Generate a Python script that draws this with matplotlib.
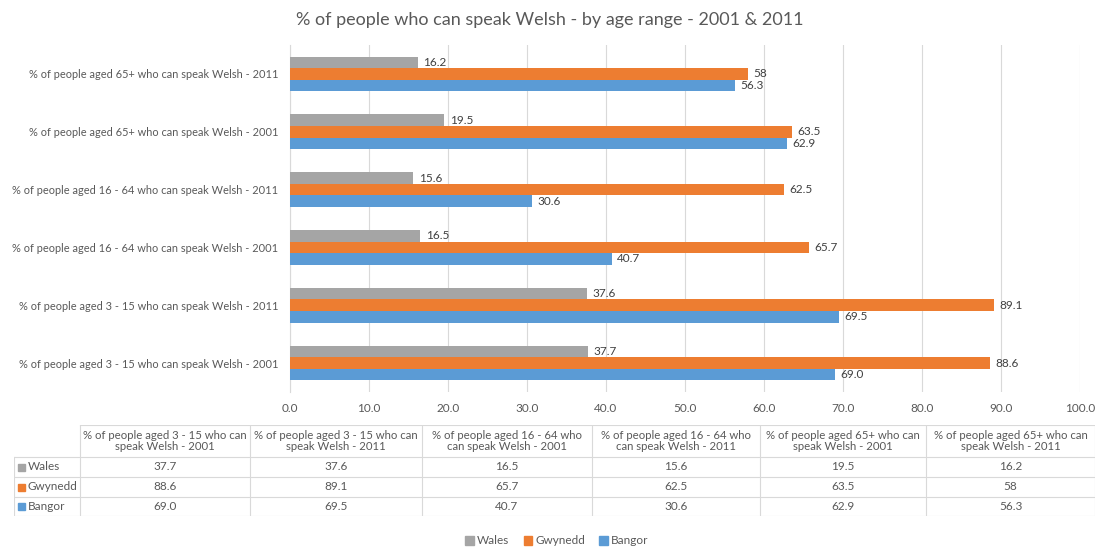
import numpy as np
import matplotlib.pyplot as plt
from matplotlib.patches import Rectangle

plt.rcParams['font.family'] = ['Lato', 'DejaVu Sans']

categories = [
    '% of people aged 3 - 15 who can speak Welsh - 2001',
    '% of people aged 3 - 15 who can speak Welsh - 2011',
    '% of people aged 16 - 64 who can speak Welsh - 2001',
    '% of people aged 16 - 64 who can speak Welsh - 2011',
    '% of people aged 65+ who can speak Welsh - 2001',
    '% of people aged 65+ who can speak Welsh - 2011',
]
table_headers = [
    '% of people aged 3 - 15 who can\nspeak Welsh - 2001',
    '% of people aged 3 - 15 who can\nspeak Welsh - 2011',
    '% of people aged 16 - 64 who\ncan speak Welsh - 2001',
    '% of people aged 16 - 64 who\ncan speak Welsh - 2011',
    '% of people aged 65+ who can\nspeak Welsh - 2001',
    '% of people aged 65+ who can\nspeak Welsh - 2011',
]
series = ['Wales', 'Gwynedd', 'Bangor']
wales = ['37.7', '37.6', '16.5', '15.6', '19.5', '16.2']
gwynedd = ['88.6', '89.1', '65.7', '62.5', '63.5', '58']
bangor = ['69.0', '69.5', '40.7', '30.6', '62.9', '56.3']
colors = ['#A5A5A5', '#ED7D31', '#5B9BD5']
xticks = np.arange(0, 101, 10)

txt = '#595959'
fig = plt.figure(figsize=(11, 5.5), dpi=100)
ax = fig.add_axes([290 / 1100, 1 - 392 / 550, 790 / 1100, 347 / 550])

y = np.arange(len(categories))
h = 0.2
for i, (name, vals) in enumerate(zip(series, [wales, gwynedd, bangor])):
    v = [float(s) for s in vals]
    pos = y + (1 - i) * h
    ax.barh(pos, v, height=h, color=colors[i], zorder=3)
    for p, val, s in zip(pos, v, vals):
        ax.annotate(s, (val, p), xytext=(4, 0), textcoords='offset points',
                    va='center', ha='left', fontsize=8.5, color='#404040')

ax.set_xlim(0, 100)
ax.set_ylim(-0.5, 5.5)
ax.set_xticks(xticks)
ax.set_xticklabels([f'{t:.1f}' for t in xticks])
ax.set_yticks(y)
ax.set_yticklabels(categories, fontsize=7.9)
ax.tick_params(axis='both', length=0, colors=txt)
ax.tick_params(axis='x', pad=8, labelsize=8.5)
ax.tick_params(axis='y', pad=8.5)
ax.grid(axis='x', color='#D9D9D9', linewidth=0.8, zorder=0)
for s in ['top', 'right', 'bottom']:
    ax.spines[s].set_visible(False)
ax.spines['left'].set_color('#D9D9D9')

fig.suptitle('% of people who can speak Welsh - by age range - 2001 & 2011',
             y=1 - 20 / 550, va='center', fontsize=13, color=txt)

# data table below the chart
tab = fig.add_axes([14 / 1100, 1 - 516 / 550, 1081 / 1100, 91 / 550])
tab.set_xlim(14, 1095)
tab.set_ylim(516, 425)
tab.axis('off')
col_edges = [14, 80, 250, 422, 592, 760, 926, 1095]
row_edges = [425, 457, 477, 497, 516]
lc = '#D9D9D9'
tab.plot([80, 1095], [425, 425], color=lc, lw=0.8)
for r in row_edges[1:]:
    tab.plot([14, 1095], [r, r], color=lc, lw=0.8)
for c in col_edges:
    top = 457 if c == 14 else 425
    tab.plot([c, c], [top, 516], color=lc, lw=0.8)
for j, head in enumerate(table_headers):
    tab.text((col_edges[j + 1] + col_edges[j + 2]) / 2, 441, head,
             ha='center', va='center', fontsize=8.2, color=txt, linespacing=1.1)
for i, (name, vals) in enumerate(zip(series, [wales, gwynedd, bangor])):
    yc = (row_edges[i + 1] + row_edges[i + 2]) / 2
    tab.add_patch(Rectangle((18, yc - 3.5), 7, 7, color=colors[i]))
    tab.text(28, yc, name, ha='left', va='center', fontsize=8.5, color=txt)
    for j, s in enumerate(vals):
        tab.text((col_edges[j + 1] + col_edges[j + 2]) / 2, yc, s,
                 ha='center', va='center', fontsize=8.5, color=txt)

handles = [Rectangle((0, 0), 1, 1, color=c) for c in colors]
fig.legend(handles, series, loc='center', bbox_to_anchor=(557 / 1100, 1 - 541 / 550),
           ncol=3, frameon=False, fontsize=8.5, handlelength=0.7, handleheight=0.7,
           handletextpad=0.3, columnspacing=1.2, labelcolor=txt)

fig.savefig('out.png', dpi=100)
